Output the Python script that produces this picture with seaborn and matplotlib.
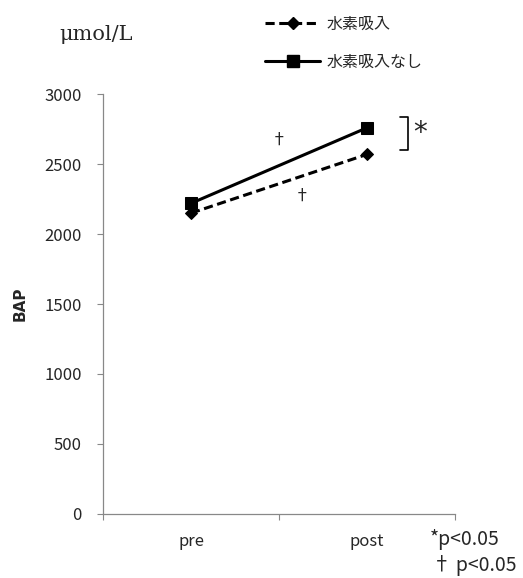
import numpy as np
import pandas as pd
import matplotlib
matplotlib.use("Agg")
import matplotlib.pyplot as plt
import seaborn as sns
from matplotlib.lines import Line2D

timepoints = ["pre", "post"]
h2_inhale = [2150, 2570]        # 水素吸入
no_h2_inhale = [2220, 2760]     # 水素吸入なし
series_names = ["水素吸入", "水素吸入なし"]

sns.set_style("white")
plt.rcParams['font.family'] = ['Noto Sans CJK JP', 'DejaVu Sans']

df = pd.DataFrame({
    "time": timepoints * 2,
    "pos": list(range(len(timepoints))) * 2,
    "BAP": h2_inhale + no_h2_inhale,
    "group": [series_names[0]] * 2 + [series_names[1]] * 2,
})

fig = plt.figure(figsize=(5.23, 5.78), dpi=100)
ax = fig.add_axes([0.197, 0.111, 0.673, 0.726])

d1 = df[df.group == series_names[0]]
d2 = df[df.group == series_names[1]]
sns.lineplot(data=d1, x="pos", y="BAP", ax=ax, color="black", lw=2.2,
             linestyle=(0, (3, 1.5)), marker="D", markersize=6,
             markeredgecolor="black")
sns.lineplot(data=d2, x="pos", y="BAP", ax=ax, color="black", lw=2.2,
             marker="s", markersize=8, markeredgecolor="black")

ax.set_xlim(-0.5, 1.5)
ax.set_ylim(0, 3000)
ax.set_yticks(np.arange(0, 3001, 500))
ax.set_xticks([-0.5, 0.5, 1.5])
ax.set_xticklabels([])
ax.set_xticks(range(len(timepoints)), minor=True)
ax.set_xticklabels(timepoints, minor=True)
ax.tick_params(axis="x", which="major", length=4.5, color="#888888", direction="out", bottom=True)
ax.tick_params(axis="x", which="minor", length=0, pad=14, labelsize=12)
ax.tick_params(axis="y", length=4.5, color="#888888", direction="out", left=True, labelsize=12, pad=11)
for s in ["top", "right"]:
    ax.spines[s].set_visible(False)
for s in ["left", "bottom"]:
    ax.spines[s].set_color("#888888")
    ax.spines[s].set_linewidth(0.9)

ax.set_xlabel("")
ax.set_ylabel("BAP", fontweight="bold", fontsize=11, family="DejaVu Sans", labelpad=12)

# unit
fig.text(0.113, 0.94, "μmol/L", fontsize=15, family="DejaVu Serif", va="center")

# significance marks
ax.text(0.5, 2670, "†", ha="center", va="center", fontsize=12)
ax.text(0.63, 2270, "†", ha="center", va="center", fontsize=12)
ax.plot([1.19, 1.235, 1.235, 1.19], [2836, 2836, 2600, 2600], color="black", lw=1.2)
ax.text(1.26, 2720, "*", ha="left", va="center", fontsize=20, family="DejaVu Sans")

fig.text(0.822, 0.066, "*p<0.05", fontsize=14, va="center")
fig.text(0.826, 0.022, "† p<0.05", fontsize=14, va="center")

handles = [
    Line2D([], [], color="black", lw=2.2, linestyle=(0, (3, 1.5)), marker="D", markersize=6),
    Line2D([], [], color="black", lw=2.2, marker="s", markersize=8),
]
fig.legend(handles, series_names, loc="upper left", bbox_to_anchor=(0.48, 0.998),
           frameon=False, fontsize=11.5, handlelength=3.4, labelspacing=1.3,
           handletextpad=0.45)

fig.savefig("out.png", dpi=100)
